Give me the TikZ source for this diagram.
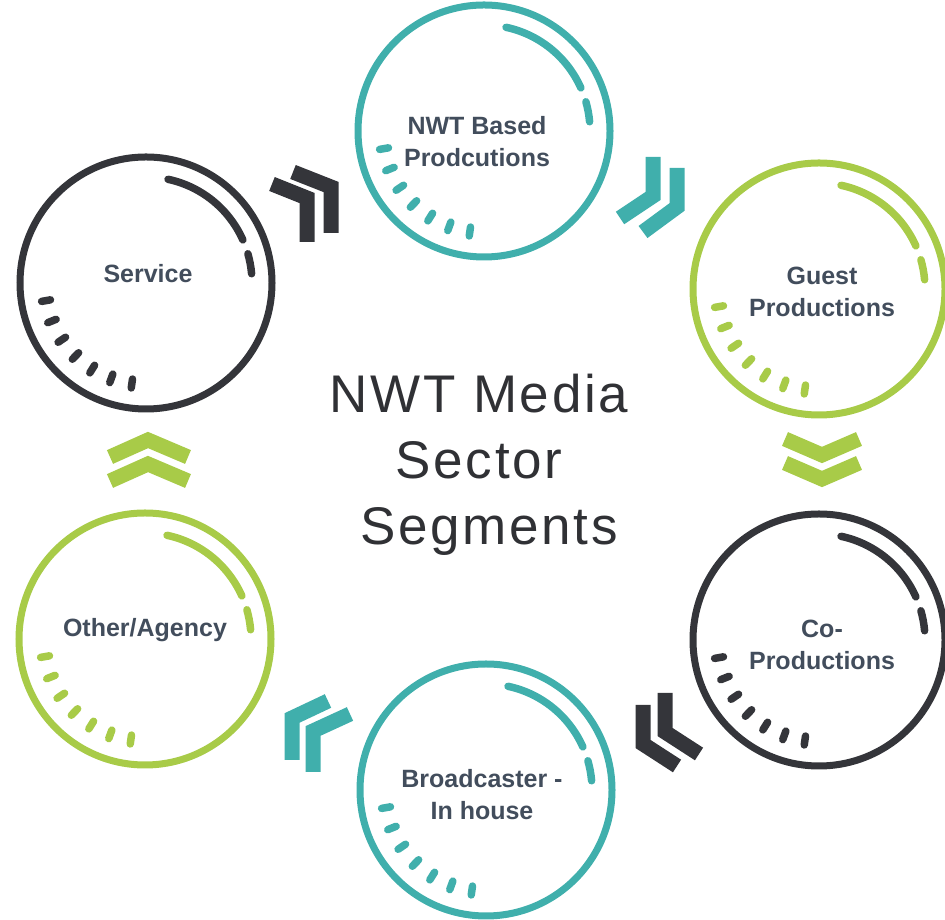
\documentclass[tikz,border=0pt]{standalone}
\usepackage{fontspec}
\setmainfont{Liberation Sans}
\newfontfamily\titlefont{Liberation Sans}[LetterSpace=5]
\definecolor{segteal}{RGB}{64,175,172}
\definecolor{seggreen}{RGB}{168,203,72}
\definecolor{segdark}{RGB}{52,53,58}
\definecolor{seglabel}{RGB}{66,77,92}
\definecolor{segtitle}{RGB}{48,49,53}
\tikzset{
  ring/.style={circle, draw=#1, line width=7, minimum size=252, inner sep=0},
  ringmark/.style={#1, line width=7.5, line cap=round},
  chev/.style={#1, line width=15, line join=miter},
  seglabel/.style={font=\bfseries\fontsize{25}{32}\selectfont, text=seglabel, align=center}
}
\begin{document}
\begin{tikzpicture}[x=1pt,y=1pt]
    \useasboundingbox (0,0) rectangle (945,920);

    % segment rings
    \node[ring=segteal] (nwt) at (484,789) {};
    \node[ring=seggreen] (guest) at (819,631) {};
    \node[ring=segdark] (coprod) at (819,280) {};
    \node[ring=segteal] (bcast) at (486,130) {};
    \node[ring=seggreen] (other) at (145,281) {};
    \node[ring=segdark] (service) at (146,637) {};

    % inner arcs and ticks
    \foreach \n/\c in {nwt/segteal, guest/seggreen, coprod/segdark, bcast/segteal, other/seggreen, service/segdark} {
      \draw[ringmark=\c] ([shift={(78:106)}]\n.center) arc[start angle=78, end angle=24, radius=106];
      \draw[ringmark=\c] ([shift={(16:106)}]\n.center) arc[start angle=16, end angle=5, radius=106];
      \foreach \a in {190,202,...,262}
        \draw[ringmark=\c] ([shift={(\a:97)}]\n.center) -- ([shift={(\a:106)}]\n.center);
    }

    % labels
    \node[seglabel] (nwtlbl) at ([shift={(-7,-11)}]nwt.center) {NWT Based\\Prodcutions};
    \node[seglabel] (guestlbl) at ([shift={(3,-3)}]guest.center) {Guest\\Productions};
    \node[seglabel] (coprodlbl) at ([shift={(3,-5)}]coprod.center) {Co-\\Productions};
    \node[seglabel] (bcastlbl) at ([shift={(-4,-5)}]bcast.center) {Broadcaster -\\In house};
    \node[seglabel] (otherlbl) at ([shift={(0,9)}]other.center) {Other/Agency};
    \node[seglabel] (servicelbl) at ([shift={(2,9)}]service.center) {Service};

    \node[font=\titlefont\fontsize{53}{66}\selectfont, text=segtitle, align=center] (title) at (479,455) {NWT Media\\Sector\\\hspace*{20pt}Segments};

    % chevrons
    \draw[chev=segdark] (272,736) -- (307,722) -- (307,678);
    \draw[chev=segdark] (293,748) -- (331,733) -- (331,687);
    \draw[chev=segteal] (653,763) -- (653,724) -- (620,702);
    \draw[chev=segteal] (677,752) -- (677,713) -- (643,688);
    \draw[chev=seggreen] (785,481) -- (822,465) -- (859,481);
    \draw[chev=seggreen] (785,457) -- (822,441) -- (859,457);
    \draw[chev=segdark] (665,227) -- (665,188) -- (699,166);
    \draw[chev=segdark] (643,215) -- (643,176) -- (677,154);
    \draw[chev=segteal] (350,206) -- (313,189) -- (313,148);
    \draw[chev=segteal] (328,219) -- (292,202) -- (292,160);
    \draw[chev=seggreen] (110,463) -- (148,480) -- (188,463);
    \draw[chev=seggreen] (110,439) -- (148,456) -- (188,439);
\end{tikzpicture}
\end{document}
